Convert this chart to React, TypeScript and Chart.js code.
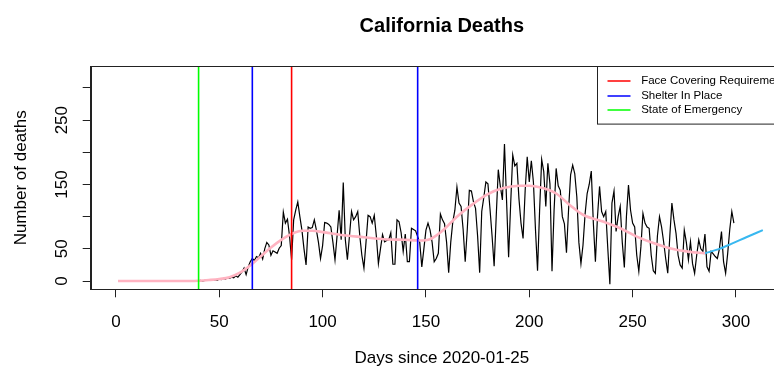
import React, { useEffect, useRef } from "react";
import { Chart, registerables } from "chart.js";

Chart.register(...registerables);

// ---------- text ----------
const chartTitle = "California Deaths";
const xAxisTitle = "Days since 2020-01-25";
const yAxisTitle = "Number of deaths";

// ---------- data ----------
const firstDay = 1;
// daily deaths, day 1 .. day 299
const dailyDeaths = [
  0, 0, 0, 0, 0, 0, 0, 0, 0, 0,
  0, 0, 0, 0, 0, 0, 0, 0, 0, 0,
  0, 0, 0, 0, 0, 0, 0, 0, 0, 0,
  0, 0, 0, 0, 0, 0, 0, 0, 0,
  0, 1, 0, 1, 1, 2, 1,
  1, 2, 1, 3, 2, 4, 3, 5, 4, 6, 5, 8, 6, 10,
  14, 20, 10, 22, 30, 35, 32, 38, 36, 43,
  34, 50, 60, 56, 40, 47, 45, 43, 51, 55,
  107, 90, 96, 70, 33, 95, 110, 123, 100, 79,
  50, 25, 84, 82, 83, 95, 79, 60, 35, 55,
  91, 90, 88, 84, 60, 33, 70, 110, 64, 153,
  64, 33, 70, 108, 95, 100, 108, 70, 40, 20,
  60, 102, 100, 90, 102, 70, 27, 50, 72, 61,
  63, 64, 75, 26, 26, 95, 92, 75, 46, 73,
  30, 30, 82, 80, 78, 69, 60, 22, 50, 79,
  90, 79, 60, 30, 35, 43, 104, 95, 89, 60,
  13, 60, 92, 110, 146, 121, 116, 80, 30, 80,
  141, 140, 123, 113, 70, 13, 108, 130, 154, 151,
  112, 70, 23, 100, 173, 147, 126, 213, 126, 37,
  120, 196, 179, 183, 128, 90, 66, 140, 193, 154,
  187, 154, 80, 16, 110, 189, 170, 116, 183, 151,
  15, 110, 175, 148, 141, 100, 89, 44, 110, 165,
  180, 167, 131, 60, 27, 56, 104, 136, 150, 171,
  90, 30, 100, 147, 108, 100, 108, 50, -5, 121,
  140, 77, 100, 116, 60, 21, 100, 149, 110, 90,
  84, 40, 15, 53, 105, 90, 84, 82, 40, 16,
  12, 70, 100, 84, 61, 35, 12, 70, 121, 95,
  74, 40, 25, 20, 79, 60, 33, 61, 27, 12,
  40, 64, 50, 46, 73, 22, 15, 46, 42, 38,
  35, 50, 77, 30, 12, 43, 80, 108, 90,
];

// smoothed trend (pink)
const smoothDays = [1, 10, 20, 30, 40, 45, 50, 55, 60, 65, 70, 75, 80, 85, 90, 95, 100, 110, 120, 130, 140, 147, 152, 158, 165, 172, 180, 187, 195, 200, 207, 213, 220, 226, 236, 244, 252, 260, 268, 276, 285];
const smoothValues = [0, 0, 0, 0, 0.5, 1.5, 3, 6, 13, 24, 38, 52, 64, 73, 78, 78, 76, 71, 68, 65, 64, 63, 65, 78, 100, 118, 135, 144, 148, 148, 144, 136, 117, 103, 92, 82, 69, 59, 51, 46, 43];

// forecast (sky blue)
const forecastDays = [285, 292, 298, 305, 313];
const forecastValues = [43, 50, 58, 68, 79];

// interventions
const eventLabels = ["Face Covering Requirement", "Shelter In Place", "State of Emergency"];
const eventColors = ["#ff0000", "#0000ff", "#00ff00"];
const eventDays = [[85], [66, 146], [40]];

// axes
const xMin = -12.2;
const xMax = 327.6;
const yMin = -12.9;
const yMax = 333.7;
const tickStep = 50;
const yLabelShown = [0, 50, 150, 250];

const FONT = '"Liberation Sans", Arial, Helvetica, sans-serif';

const boxPlugin = {
  id: "rBox",
  afterDraw(chart: any) {
    const { ctx, chartArea } = chart;
    ctx.save();
    ctx.strokeStyle = "#222";
    ctx.lineWidth = 1;
    const l = Math.round(chartArea.left) + 0.5;
    const t = Math.round(chartArea.top) + 0.5;
    const b = Math.round(chartArea.bottom) + 0.5;
    const r = Math.round(chartArea.right) + 0.5;
    ctx.strokeRect(l, t, r - l, b - t);
    ctx.restore();
  },
};

const legendPlugin = {
  id: "rLegend",
  afterDraw(chart: any) {
    const { ctx, chartArea } = chart;
    const right = chartArea.right;
    const top = Math.round(chartArea.top) + 0.5;
    const left = Math.round(right - 196) + 0.5;
    const h = 57.6;
    const rowH = 14.4;
    ctx.save();
    ctx.fillStyle = "#fff";
    ctx.fillRect(left, top, right - left, h);
    ctx.strokeStyle = "#222";
    ctx.lineWidth = 1;
    ctx.strokeRect(left, top, right - left, h);
    ctx.font = `11.5px ${FONT}`;
    ctx.textBaseline = "middle";
    ctx.textAlign = "left";
    eventLabels.forEach((lab, i) => {
      const y = Math.round(top + 14.6 + i * rowH);
      ctx.strokeStyle = eventColors[i];
      ctx.lineWidth = 1.5;
      ctx.beginPath();
      ctx.moveTo(left + 10, y);
      ctx.lineTo(left + 33, y);
      ctx.stroke();
      ctx.fillStyle = "#000";
      ctx.fillText(lab, left + 43.7, y);
    });
    ctx.restore();
  },
};

export default function App() {
  const canvasRef = useRef<HTMLCanvasElement | null>(null);

  useEffect(() => {
    if (!canvasRef.current) return;
    Chart.defaults.font.family = FONT;
    Chart.defaults.color = "#000";

    const eventDatasets: any[] = [];
    eventDays.forEach((days, i) => {
      days.forEach((d) => {
        eventDatasets.push({
          label: eventLabels[i],
          data: [
            { x: d, y: yMin },
            { x: d, y: yMax },
          ],
          borderColor: eventColors[i],
          borderWidth: 1.6,
          pointRadius: 0,
          tension: 0,
          order: 0,
        });
      });
    });

    const chart = new Chart(canvasRef.current, {
      type: "line",
      data: {
        datasets: [
          ...eventDatasets,
          {
            label: "trend",
            data: smoothDays.map((d, i) => ({ x: d, y: smoothValues[i] })),
            borderColor: "#ffb3c1",
            borderWidth: 2.6,
            pointRadius: 0,
            cubicInterpolationMode: "monotone",
            order: 1,
          },
          {
            label: "forecast",
            data: forecastDays.map((d, i) => ({ x: d, y: forecastValues[i] })),
            borderColor: "#38b8f0",
            borderWidth: 2,
            pointRadius: 0,
            cubicInterpolationMode: "monotone",
            order: 1,
          },
          {
            label: "daily",
            data: dailyDeaths.map((v, i) => ({ x: firstDay + i, y: v })),
            borderColor: "#000",
            borderWidth: 1.2,
            pointRadius: 0,
            tension: 0,
            order: 2,
          },
        ],
      },
      options: {
        animation: false,
        responsive: false,
        devicePixelRatio: 1,
        events: [],
        layout: { padding: { left: 0, top: 0, right: 37, bottom: 0 } },
        plugins: {
          legend: { display: false },
          tooltip: { enabled: false },
          title: {
            display: true,
            text: chartTitle,
            fullSize: false,
            color: "#000",
            font: { size: 20, weight: "bold", family: FONT },
            padding: { top: 14, bottom: 28.3 },
          },
        },
        scales: {
          x: {
            type: "linear",
            min: xMin,
            max: xMax,
            afterFit: (s: any) => {
              s.height = 80.7;
            },
            grid: {
              drawOnChartArea: false,
              drawTicks: true,
              tickLength: 8,
              color: "#222",
              tickColor: "#222",
            },
            border: { display: true, color: "#222" },
            ticks: {
              stepSize: tickStep,
              includeBounds: false,
              autoSkip: false,
              minRotation: 0,
              maxRotation: 0,
              padding: 14.5,
              color: "#000",
              font: { size: 17, family: FONT },
            },
            title: {
              display: true,
              text: xAxisTitle,
              color: "#000",
              font: { size: 17, family: FONT },
              padding: { top: 0, bottom: 1 },
            },
          },
          y: {
            type: "linear",
            min: yMin,
            max: yMax,
            afterFit: (s: any) => {
              s.width = 90.7;
            },
            grid: {
              drawOnChartArea: false,
              drawTicks: true,
              tickLength: 8,
              color: "#222",
              tickColor: "#222",
            },
            border: { display: true, color: "#222" },
            ticks: {
              stepSize: tickStep,
              includeBounds: false,
              autoSkip: false,
              minRotation: 90,
              maxRotation: 90,
              crossAlign: "center",
              padding: 6.7,
              color: "#000",
              font: { size: 17, family: FONT },
              callback: (v: any) => (yLabelShown.includes(Number(v)) ? String(v) : ""),
            },
            title: {
              display: true,
              text: yAxisTitle,
              color: "#000",
              font: { size: 17, family: FONT },
              padding: { top: 11, bottom: 0 },
            },
          },
        },
      } as any,
      plugins: [boxPlugin, legendPlugin],
    });

    return () => {
      chart.destroy();
    };
  }, []);

  return (
    <div
      style={{
        position: "fixed",
        left: 0,
        top: 0,
        width: 774,
        height: 370,
        overflow: "hidden",
        background: "#fff",
      }}
    >
      <canvas
        ref={canvasRef}
        width={830}
        height={370}
        style={{ display: "block", width: 830, height: 370 }}
      />
    </div>
  );
}
